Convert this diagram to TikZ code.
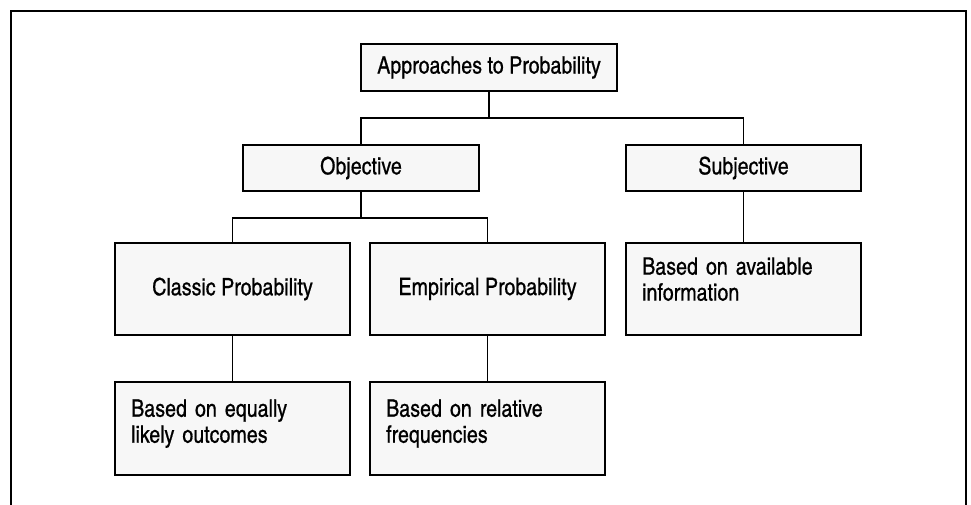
\documentclass[tikz,border=0pt]{standalone}
\usepackage{fontspec}
\setmainfont{texgyreheroscn-regular.otf}[FakeBold=0.6]
\begin{document}
\begin{tikzpicture}[x=0.75pt,y=-0.75pt,
  box/.style={draw=black,line width=1.3pt,fill=black!3,inner sep=0pt,
    minimum width=176.25pt,font=\fontsize{18}{19.5}\selectfont},
  tbox/.style={box,align=left,text width=152pt},
  conn/.style={draw=black,line width=1.1pt}]
\useasboundingbox (0,0) rectangle (971,504);
\draw[line width=1.5pt] (11,520) -- (11,11) -- (966,11) -- (966,520);
\node[box,minimum width=192pt,minimum height=35.25pt] (top) at (489,67.5) {Approaches to Probability};
\node[box,minimum height=34.5pt,minimum width=177pt] (obj) at (361,168) {Objective};
\node[box,minimum height=34.5pt] (subj) at (743.5,168) {Subjective};
\node[box,minimum height=69pt] (classic) at (232.5,289) {Classic Probability};
\node[box,minimum height=69pt] (emp) at (487.5,289) {Empirical Probability};
\node[tbox,minimum height=69pt,text depth=34.5pt] (avail) at (743.5,289) {Based on available\\information};
\node[tbox,minimum height=69.75pt,text depth=30.6pt] (equal) at (232.5,428.5) {Based on equally\\likely outcomes};
\node[tbox,minimum height=69.75pt,text depth=30.6pt] (rel) at (487.5,428.5) {Based on relative\\frequencies};
\coordinate (j1) at (489,118);
\coordinate (j2) at (361,218);
\draw[conn] (top.south) -- (j1);
\draw[conn] (obj.north) |- (j1) -| (subj.north);
\draw[conn] (obj.south) -- (j2);
\draw[conn] (classic.north) |- (j2) -| (emp.north);
\draw[conn] (subj.south) -- (avail.north);
\draw[conn] (classic.south) -- (equal.north);
\draw[conn] (emp.south) -- (rel.north);
\end{tikzpicture}
\end{document}
